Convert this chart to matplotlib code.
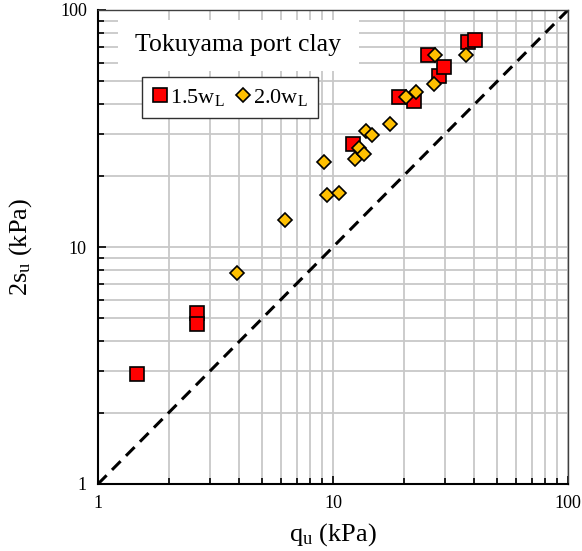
import matplotlib
matplotlib.use("Agg")
import matplotlib.pyplot as plt
from matplotlib.ticker import LogLocator, NullFormatter, FixedLocator, FixedFormatter
from matplotlib.patches import Rectangle

plt.rcParams['font.family'] = ['Liberation Serif', 'DejaVu Serif']
plt.rcParams['mathtext.fontset'] = 'custom'
plt.rcParams['mathtext.rm'] = 'Liberation Serif'
plt.rcParams['mathtext.it'] = 'Liberation Serif:italic'

# Unconfined compression strength q_u vs. 2 s_u (kPa)
qu_15 = [1.46, 2.65, 2.65, 12.2, 19.0, 22.1, 25.3, 28.3, 29.7, 37.7, 40.4]
su2_15 = [2.92, 5.25, 4.73, 27.2, 43.0, 41.2, 64.6, 52.8, 57.2, 73.5, 74.7]

qu_20 = [3.90, 6.27, 9.18, 9.43, 10.6, 12.4, 12.9, 13.5, 13.8, 14.6,
         17.5, 20.4, 22.5, 27.0, 27.2, 36.7]
su2_20 = [7.75, 12.96, 22.8, 16.5, 16.9, 23.5, 26.1, 24.6, 31.0, 29.7,
          33.0, 42.8, 45.0, 48.7, 64.6, 64.6]

axis_ticks = [1, 10, 100]
axis_ticklabels = ['1', '10', '100']
title_text = 'Tokuyama port clay'

W, H = 582, 551
fig = plt.figure(figsize=(W / 100, H / 100), dpi=100)
ax = fig.add_axes([98 / W, 1 - 484 / H, 470 / W, 474 / H])
ax.set_xscale('log')
ax.set_yscale('log')
ax.set_xlim(1, 100)
ax.set_ylim(1, 100)

grid_c = '#c8c8c8'
ax.grid(True, which='both', color=grid_c, linewidth=1.3, zorder=0)
ax.set_axisbelow(True)

# 1:1 line
ax.plot([1, 100], [1, 100], color='black', linestyle=(0, (4, 2.5)),
        linewidth=2.2, zorder=2)

ax.plot(qu_15, su2_15, linestyle='none', marker='s', markersize=9.4,
        markerfacecolor='#ff0000', markeredgecolor='black', markeredgewidth=1.2,
        label=r'1.5w$_\mathregular{L}$', zorder=3)
ax.plot(qu_20, su2_20, linestyle='none', marker='D', markersize=7.3,
        markerfacecolor='#ffc000', markeredgecolor='black', markeredgewidth=1.2,
        label=r'2.0w$_\mathregular{L}$', zorder=4)

ax.xaxis.set_major_locator(FixedLocator(axis_ticks))
ax.xaxis.set_major_formatter(FixedFormatter(axis_ticklabels))
ax.yaxis.set_major_locator(FixedLocator(axis_ticks))
ax.yaxis.set_major_formatter(FixedFormatter(axis_ticklabels))
ax.xaxis.set_minor_locator(LogLocator(base=10, subs=range(2, 10)))
ax.yaxis.set_minor_locator(LogLocator(base=10, subs=range(2, 10)))
ax.xaxis.set_minor_formatter(NullFormatter())
ax.yaxis.set_minor_formatter(NullFormatter())
ax.tick_params(which='both', direction='in', top=False, right=False,
               labelsize=13, width=1.2, color='black')
ax.tick_params(which='major', length=6, pad=8)
ax.tick_params(which='minor', length=4)
for s in ax.spines.values():
    s.set_linewidth(1.5)
    s.set_color('black')
ax.spines['top'].set_color('#404040')
ax.spines['right'].set_color('#404040')
ax.spines['top'].set_linewidth(1.0)
ax.spines['right'].set_linewidth(1.0)

ax.set_xlabel(r'q$_\mathregular{u}$ (kPa)', fontsize=19)
ax.set_ylabel(r'2s$_\mathregular{u}$ (kPa)', fontsize=19)
ax.xaxis.label.set_va('center')
ax.yaxis.label.set_va('center')
ax.xaxis.set_label_coords(0.5, (484 - 535) / 474)
ax.yaxis.set_label_coords((21 - 98) / 470, 0.5)

# White panel behind the title
ax.add_patch(Rectangle((118 / W, 1 - 71 / H), 241 / W, 51 / H,
                       transform=fig.transFigure, facecolor='white',
                       edgecolor='none', zorder=1.5))
fig.text(238 / W, 1 - 45 / H, title_text, fontsize=18.5,
         ha='center', va='center')

leg = ax.legend(loc='upper left',
                bbox_to_anchor=((142 - 98) / 470, 1 - (77 - 10) / 474),
                ncol=2, fontsize=16, frameon=True, fancybox=False,
                handlelength=0.7, handletextpad=0.1, columnspacing=0.5,
                borderpad=0.45, borderaxespad=0, markerscale=1.0)
leg.get_frame().set_edgecolor('#303030')
leg.get_frame().set_linewidth(1.0)
leg.get_frame().set_alpha(1.0)
leg.set_zorder(6)

fig.savefig('out.png', dpi=100)
